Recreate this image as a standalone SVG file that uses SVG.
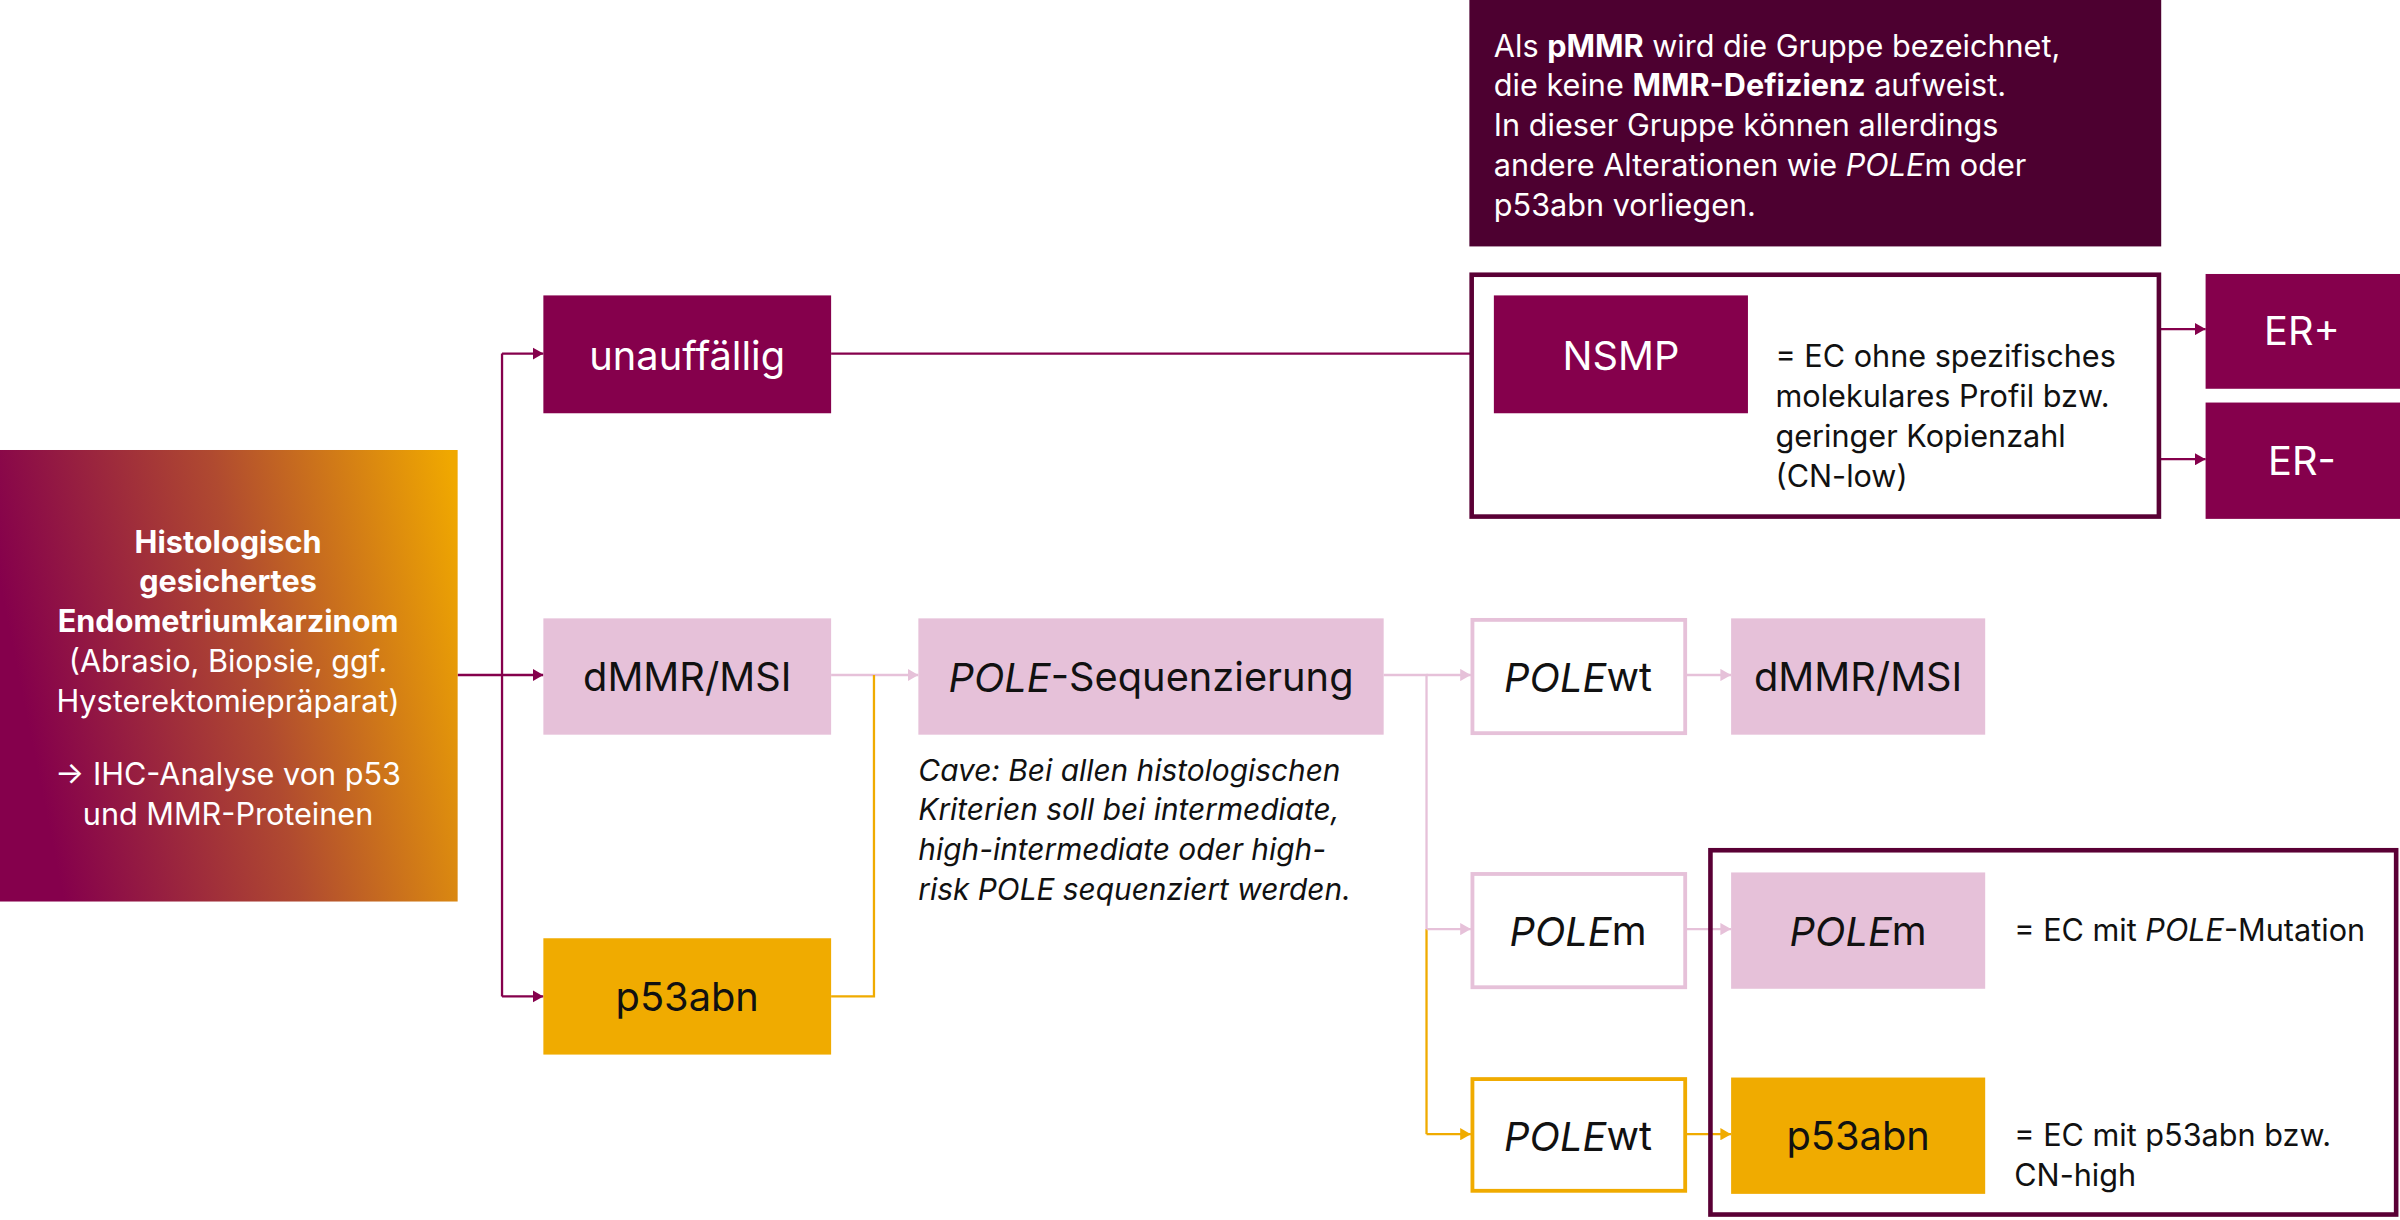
<svg xmlns="http://www.w3.org/2000/svg" width="2400" height="1220" viewBox="0 0 2400 1220">
<defs>
<linearGradient id="grad" x1="0" y1="0.3" x2="1" y2="0.1">
<stop offset="0" stop-color="#85004c"/><stop offset="0.5" stop-color="#b04a30"/><stop offset="1" stop-color="#f0a800"/>
</linearGradient>
<marker id="am" markerUnits="userSpaceOnUse" markerWidth="8" markerHeight="8" refX="7" refY="4" orient="auto"><path d="M0,0 L7,4 L0,8 z" fill="#85004c"/></marker>
<marker id="ap" markerUnits="userSpaceOnUse" markerWidth="8" markerHeight="8" refX="7" refY="4" orient="auto"><path d="M0,0 L7,4 L0,8 z" fill="#e6c1d9"/></marker>
<marker id="ao" markerUnits="userSpaceOnUse" markerWidth="8" markerHeight="8" refX="7" refY="4" orient="auto"><path d="M0,0 L7,4 L0,8 z" fill="#f0ab00"/></marker>
<style>
text{font-family:Inter,"Noto Sans","Liberation Sans",sans-serif;}
.w{fill:#fff}.k{fill:#111}
.big{font-size:26px;text-anchor:middle;dominant-baseline:central}
.t{font-size:20px}
.dm{fill:#85004c}.pk{fill:#e6c1d9}.or{fill:#f0ab00}
.lm{stroke:#85004c;fill:none;stroke-width:1.5}
.lp{stroke:#e6c1d9;fill:none;stroke-width:1.5}
.lo{stroke:#f0ab00;fill:none;stroke-width:1.5}
</style>
</defs>
<g transform="scale(1.5306)">
<g id="connectors">
<path class="lm" d="M299,441 H328 M328,231 V651"/>
<path class="lm" d="M328,231 H355" marker-end="url(#am)"/>
<path class="lm" d="M328,441 H355" marker-end="url(#am)"/>
<path class="lm" d="M328,651 H355" marker-end="url(#am)"/>
<path class="lm" d="M543,231 H976"/>
<path class="lm" d="M1411,215 H1441" marker-end="url(#am)"/>
<path class="lm" d="M1411,300 H1441" marker-end="url(#am)"/>
<path class="lp" d="M543,441 H600" marker-end="url(#ap)"/>
<path class="lo" d="M543,651 H571 V441"/>
<path class="lo" d="M932,607 V741"/>
<path class="lo" d="M932,741 H961" marker-end="url(#ao)"/>
<path class="lp" d="M904,441 H932 V607"/>
<path class="lp" d="M932,441 H961" marker-end="url(#ap)"/>
<path class="lp" d="M932,607 H961" marker-end="url(#ap)"/>
<path class="lp" d="M1102,441 H1131" marker-end="url(#ap)"/>
<path class="lp" d="M1102,607 H1131" marker-end="url(#ap)"/>
<path class="lo" d="M1102,741 H1131" marker-end="url(#ao)"/>
</g>
<g id="pmmr"><rect x="960" y="0" width="452" height="161" fill="#4d0030"/>
<text class="w t" x="976" y="37">Als <tspan font-weight="bold">pMMR</tspan> wird die Gruppe bezeichnet,</text>
<text class="w t" x="976" y="63">die keine <tspan font-weight="bold">MMR-Defizienz</tspan> aufweist.</text>
<text class="w t" x="976" y="89">In dieser Gruppe können allerdings</text>
<text class="w t" x="976" y="115">andere Alterationen wie <tspan font-style="italic">POLE</tspan>m oder</text>
<text class="w t" x="976" y="141">p53abn vorliegen.</text></g>
<g id="nsmpgroup"><rect x="961.5" y="179.5" width="449" height="158" fill="#fff" stroke="#5a0035" stroke-width="3"/>
<text class="k t" x="1160" y="240">= EC ohne spezifisches</text>
<text class="k t" x="1160" y="266">molekulares Profil bzw.</text>
<text class="k t" x="1160" y="292">geringer Kopienzahl</text>
<text class="k t" x="1160" y="318">(CN-low)</text></g>
<g id="nsmp"><rect class="dm" x="976" y="193" width="166" height="77"/><text class="w big" x="1059" y="232">NSMP</text></g>
<g id="erp"><rect class="dm" x="1441" y="179" width="130" height="75"/><text class="w big" x="1504" y="216">ER+</text></g>
<g id="erm"><rect class="dm" x="1441" y="263" width="130" height="76"/><text class="w big" x="1504" y="301">ER-</text></g>
<g id="source"><rect x="0" y="294" width="299" height="295" fill="url(#grad)"/>
<g class="w t" text-anchor="middle">
<text x="149" y="361" font-weight="bold">Histologisch</text>
<text x="149" y="387" font-weight="bold">gesichertes</text>
<text x="149" y="413" font-weight="bold">Endometriumkarzinom</text>
<text x="149" y="439">(Abrasio, Biopsie, ggf.</text>
<text x="149" y="465">Hysterektomiepräparat)</text>
<text x="149" y="513">→ IHC-Analyse von p53</text>
<text x="149" y="539">und MMR-Proteinen</text></g></g>
<g id="unauff"><rect class="dm" x="355" y="193" width="188" height="77"/><text class="w big" x="449" y="232">unauffällig</text></g>
<g id="dmmr1"><rect class="pk" x="355" y="404" width="188" height="76"/><text class="k big" x="449" y="442">dMMR/MSI</text></g>
<g id="p53a"><rect class="or" x="355" y="613" width="188" height="76"/><text class="k big" x="449" y="651">p53abn</text></g>
<g id="poleseq"><rect class="pk" x="600" y="404" width="304" height="76"/><text class="k big" x="752" y="442"><tspan font-style="italic">POLE</tspan>-Sequenzierung</text></g>
<g id="cave" class="k" font-size="19.5" font-style="italic">
<text x="600" y="510">Cave: Bei allen histologischen</text>
<text x="600" y="536">Kriterien soll bei intermediate,</text>
<text x="600" y="562">high-intermediate oder high-</text>
<text x="600" y="588">risk POLE sequenziert werden.</text></g>
<g id="polewt1"><rect x="962" y="405" width="139" height="74" fill="#fff" stroke="#e6c1d9" stroke-width="2.5"/><text class="k big" x="1031" y="442"><tspan font-style="italic">POLE</tspan>wt</text></g>
<g id="dmmr2"><rect class="pk" x="1131" y="404" width="166" height="76"/><text class="k big" x="1214" y="442">dMMR/MSI</text></g>
<g id="polegroup"><rect x="1117.5" y="555.5" width="448" height="238" fill="none" stroke="#5a0035" stroke-width="3"/>
<text class="k t" x="1316" y="615">= EC mit <tspan font-style="italic">POLE</tspan>-Mutation</text>
<text class="k t" x="1316" y="749">= EC mit p53abn bzw.</text>
<text class="k t" x="1316" y="775">CN-high</text></g>
<g id="polem1"><rect x="962" y="571" width="139" height="74" fill="#fff" stroke="#e6c1d9" stroke-width="2.5"/><text class="k big" x="1031" y="608"><tspan font-style="italic">POLE</tspan>m</text></g>
<g id="polem2"><rect class="pk" x="1131" y="570" width="166" height="76"/><text class="k big" x="1214" y="608"><tspan font-style="italic">POLE</tspan>m</text></g>
<g id="polewt2"><rect x="962" y="705" width="139" height="73" fill="#fff" stroke="#f0ab00" stroke-width="2.5"/><text class="k big" x="1031" y="742"><tspan font-style="italic">POLE</tspan>wt</text></g>
<g id="p53b"><rect class="or" x="1131" y="704" width="166" height="76"/><text class="k big" x="1214" y="742">p53abn</text></g>
</g>
</svg>
